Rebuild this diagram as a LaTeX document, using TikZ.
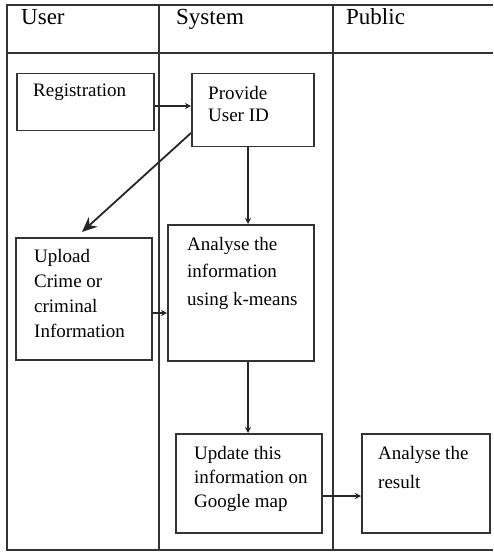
\documentclass[tikz,border=0pt]{standalone}
\usepackage{fontspec}
\setmainfont{Liberation Serif}
\usetikzlibrary{arrows.meta}
\begin{document}
\begin{tikzpicture}[x=1pt,y=-1pt,
  grid/.style={draw=black!80,line width=1.4pt},
  box/.style={draw=black!80,line width=1.5pt,minimum width=#1,inner sep=0pt,anchor=north west},
  head/.style={anchor=base west,inner sep=0pt,font=\fontsize{23}{27}\selectfont},
  % multi-line texts are placed by the baseline of their last line
  txt/.style={anchor=base west,inner sep=0pt,align=left,font=\fontsize{19}{#1}\selectfont},
  flow/.style={draw=black!85,line width=1.3pt,-{Stealth[length=6pt,width=6pt]}},
  bigflow/.style={draw=black!85,line width=1.8pt,-{Stealth[length=15pt,width=13pt]}}]
\useasboundingbox (0,0) rectangle (493,553);

% swimlane frame
\draw[grid] (493,5) -- (7,5) -- (7,550) -- (493,550);
\draw[grid] (7,53) -- (493,53);
\draw[grid] (159,5) -- (159,550);
\draw[grid] (333,5) -- (333,550);

% lane headings
\node[head] (hUser)   at (21,25)  {User};
\node[head] (hSystem) at (176,25) {System};
\node[head] (hPublic) at (346,25) {Public};

% process boxes
\node[box=137pt,minimum height=57pt]  (reg)    at (16,73)  {};
\node[box=122pt,minimum height=73pt]  (prov)   at (191,73) {};
\node[box=136pt,minimum height=122pt] (upload) at (15,237) {};
\node[box=146pt,minimum height=136pt] (anal)   at (167,224) {};
\node[box=146pt,minimum height=99pt]  (upd)    at (175,433) {};
\node[box=128pt,minimum height=99pt]  (res)    at (361,433) {};

% box texts
\node[txt=22]   (tReg)  at (33,97)   {Registration};
\node[txt=22]   (tProv) at (208,122) {Provide\\User ID};
\node[txt=24.7] (tUp)   at (34,337)  {Upload\\Crime or\\criminal\\Information};
\node[txt=27.5] (tAn)   at (187,305) {Analyse the\\information\\using k-means};
\node[txt=24]   (tUpd)  at (194,507) {Update this\\information on\\Google map};
\node[txt=29]   (tRes)  at (378,488) {Analyse the\\result};

% connectors
\draw[flow] (reg.east |- 0,106) -- (prov.west |- 0,106);
\draw[bigflow] (prov.west |- 0,133) -- (82,232);
\draw[flow] (prov.south -| 248,0) -- (anal.north -| 248,0);
\draw[flow] (upload.east |- 0,313) -- (anal.west |- 0,313);
\draw[flow] (anal.south -| 248,0) -- (upd.north -| 248,0);
\draw[flow] (upd.east |- 0,496) -- (res.west |- 0,496);
\end{tikzpicture}
\end{document}
